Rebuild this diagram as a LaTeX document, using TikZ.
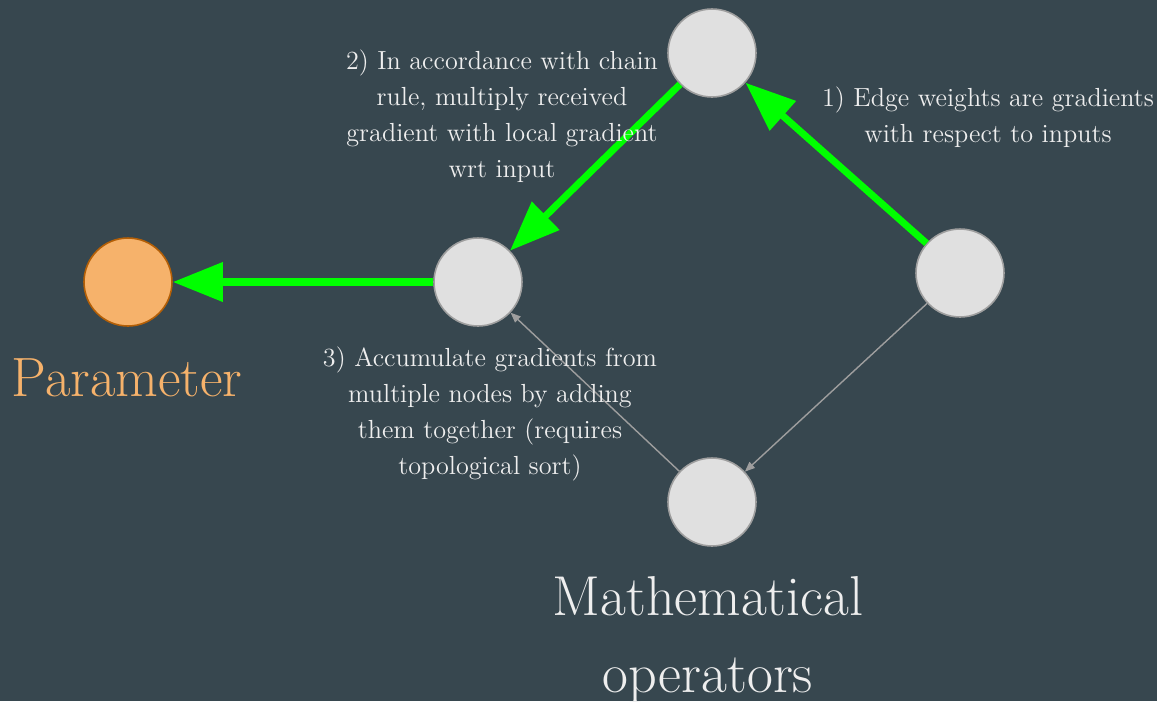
\documentclass[tikz,border=0pt]{standalone}
\usepackage{tikz}
\usepackage{xcolor}
\usetikzlibrary{arrows.meta}

\definecolor{bgslate}{RGB}{55,71,79}
\definecolor{opfill}{RGB}{224,224,224}
\definecolor{opedge}{RGB}{158,158,158}
\definecolor{parfill}{RGB}{246,178,107}
\definecolor{paredge}{RGB}{180,95,6}
\definecolor{gradgreen}{RGB}{0,255,0}
\definecolor{txtlight}{RGB}{238,238,238}

\begin{document}
\begin{tikzpicture}[x=0.02cm,y=-0.02cm,
  opnode/.style={circle,minimum size=1.76cm,inner sep=0pt,fill=opfill,draw=opedge,line width=0.9pt},
  parnode/.style={opnode,fill=parfill,draw=paredge},
  gradflow/.style={gradgreen,line width=4pt,-{Triangle[length=1.0cm,width=0.76cm]}},
  fwdflow/.style={opedge,line width=0.8pt,-{Triangle[length=0.2cm,width=0.16cm]}},
  note/.style={txtlight,align=center,font=\fontsize{14.9}{20.4}\selectfont}]
  % background
  \fill[bgslate] (0,0) rectangle (1157,701);
  \useasboundingbox (0,0) rectangle (1157,701);

  % operators and parameter
  \node[opnode] (top) at (712,53) {};
  \node[opnode] (mid) at (478,282) {};
  \node[opnode] (right) at (960,273) {};
  \node[opnode] (bottom) at (712,502) {};
  \node[parnode] (param) at (128,282) {};

  % forward edges (thin gray)
  \draw[fwdflow] (right) -- (bottom);
  \draw[fwdflow] (bottom) -- (mid);

  % backward gradient flow (green)
  \draw[gradflow] (right) -- (top);
  \draw[gradflow] (top) -- (mid);
  \draw[gradflow] (mid) -- (param);

  % step notes
  \node[note] (stepone) at (988,117) {1) Edge weights are gradients\\with respect to inputs};
  \node[note] (steptwo) at (502,116) {2) In accordance with chain\\rule, multiply received\\gradient with local gradient\\wrt input};
  \node[note] (stepthree) at (490,414) {3) Accumulate gradients from\\multiple nodes by adding\\them together (requires\\topological sort)};

  % legend labels
  \node[parfill,font=\fontsize{31.5}{38}\selectfont] (parlabel) at (127,378) {Parameter};
  \node[txtlight,align=center,font=\fontsize{32}{44}\selectfont] (oplabel) at (708,640) {Mathematical\\operators};
\end{tikzpicture}
\end{document}
